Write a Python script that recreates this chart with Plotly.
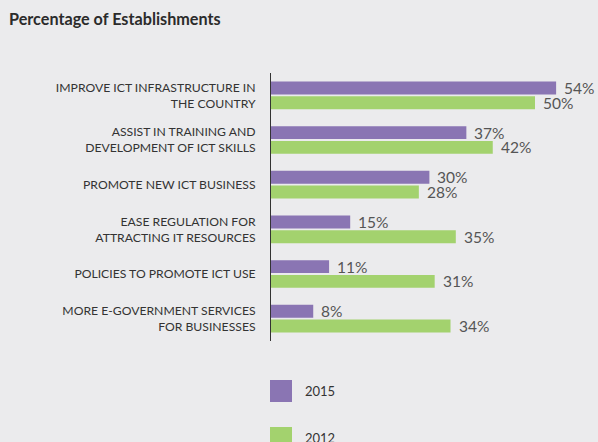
import plotly.graph_objects as go

# data
categories = [
    "IMPROVE ICT INFRASTRUCTURE IN<br>THE COUNTRY",
    "ASSIST IN TRAINING AND<br>DEVELOPMENT OF ICT SKILLS",
    "PROMOTE NEW ICT BUSINESS",
    "EASE REGULATION FOR<br>ATTRACTING IT RESOURCES",
    "POLICIES TO PROMOTE ICT USE",
    "MORE E-GOVERNMENT SERVICES<br>FOR BUSINESSES",
]
values_2015 = [54, 37, 30, 15, 11, 8]
values_2012 = [50, 42, 28, 35, 31, 34]
series_names = ["2015", "2012"]
colors = ["#8a75b3", "#a3d26e"]

W, H = 598, 442
L, R, T, B = 271, 8, 73, 101
plot_w = W - L - R
plot_h = H - T - B

bg = "#ebebed"
pos = list(range(len(categories)))
bar_w = 0.29
off = 0.165

fig = go.Figure()
for name, vals, col, sign in [(series_names[0], values_2015, colors[0], -1),
                              (series_names[1], values_2012, colors[1], 1)]:
    ys = [p + sign * off for p in pos]
    fig.add_trace(go.Bar(
        x=vals, y=ys, orientation="h", width=bar_w,
        marker=dict(color=col, line=dict(width=0)),
        name=name, showlegend=False, hoverinfo="skip",
    ))
    for v, y in zip(vals, ys):
        fig.add_annotation(
            x=v, y=y, xref="x", yref="y", text=f"{v}%", showarrow=False,
            xanchor="left", yanchor="middle", xshift=6,
            font=dict(family="Lato", size=15.5, color="#555555"),
        )


def px_x(p):
    return (p - L) / plot_w


def px_y(p):
    return (H - B - p) / plot_h


# legend drawn by hand (large squares)
legend_rows = [(380, series_names[0], colors[0]), (427, series_names[1], colors[1])]
for top, name, col in legend_rows:
    fig.add_shape(type="rect", xref="paper", yref="paper",
                  x0=px_x(270), x1=px_x(292), y0=px_y(top), y1=px_y(top + 22),
                  fillcolor=col, line=dict(width=0))
    fig.add_annotation(xref="paper", yref="paper", x=px_x(303), y=px_y(top + 11),
                       text=name, showarrow=False, xanchor="left", yanchor="middle",
                       font=dict(family="Lato", size=13, color="#333333"))

fig.update_layout(
    width=W, height=H,
    margin=dict(l=L, r=R, t=T, b=B),
    paper_bgcolor=bg, plot_bgcolor=bg,
    title=dict(text="<b>Percentage of Establishments</b>", x=9 / W, xanchor="left",
               y=1 - 19 / H, yanchor="middle",
               font=dict(family="Lato", size=16.2, color="#2b2b2b")),
    xaxis=dict(range=[0, plot_w / 5.28], visible=False, fixedrange=True),
    yaxis=dict(
        range=[len(categories) - 0.5, -0.5],
        tickvals=pos, ticktext=categories,
        showline=True, linecolor="#333333", linewidth=1,
        showgrid=False, zeroline=False, ticks="",
        ticklabelstandoff=12,
        tickfont=dict(family="Lato", size=12.2, color="#333333"),
        fixedrange=True,
    ),
)

fig.write_html("out.html", config={"displayModeBar": False},
               post_script="document.body.style.margin='0';")
